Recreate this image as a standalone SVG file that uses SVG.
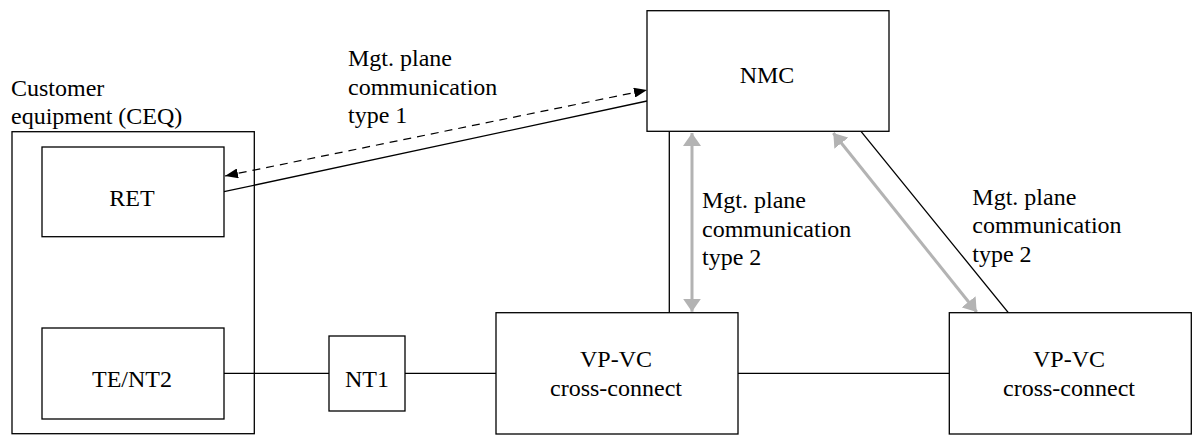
<svg xmlns="http://www.w3.org/2000/svg" width="1197" height="437" viewBox="0 0 1197 437">
<style>
.box{fill:#fff;stroke:#000;stroke-width:1.3}
.frame{fill:none;stroke:#000;stroke-width:1.3}
.ln{fill:none;stroke:#000;stroke-width:1.3}
.dash{fill:none;stroke:#000;stroke-width:1.2;stroke-dasharray:8 6}
.gray{fill:none;stroke:#b3b3b3;stroke-width:3}
.c{text-anchor:middle}
</style>
<defs>
<marker id="blk" viewBox="0 0 13 10" refX="13" refY="5" markerWidth="13" markerHeight="10" markerUnits="userSpaceOnUse" orient="auto-start-reverse">
<path d="M0,0 L13,5 L0,10 Z" fill="#000"/>
</marker>
<marker id="gry" viewBox="0 0 13 18" refX="13" refY="9" markerWidth="13" markerHeight="18" markerUnits="userSpaceOnUse" orient="auto-start-reverse">
<path d="M0,0 L13,9 L0,18 Z" fill="#b3b3b3"/>
</marker>
</defs>
<g id="connectors">
<line class="ln" x1="224" y1="191.7" x2="647" y2="101"/>
<line class="dash" x1="225" y1="176" x2="647" y2="90" marker-start="url(#blk)" marker-end="url(#blk)"/>
<line class="ln" x1="669.3" y1="131.3" x2="669.3" y2="312.7"/>
<line class="gray" x1="692" y1="133" x2="692" y2="311.7" marker-start="url(#gry)" marker-end="url(#gry)"/>
<line class="ln" x1="861" y1="131.3" x2="1008.3" y2="312.7"/>
<line class="gray" x1="833.3" y1="133" x2="976.7" y2="312" marker-start="url(#gry)" marker-end="url(#gry)"/>
<line class="ln" x1="224" y1="373.3" x2="329" y2="373.3"/>
<line class="ln" x1="405" y1="373.3" x2="496" y2="373.3"/>
<line class="ln" x1="738" y1="373.3" x2="949.3" y2="373.3"/>
</g>
<g font-family="'Liberation Serif', 'Times New Roman', serif" font-size="24" fill="#000">
<g id="ceq">
<rect class="frame" x="12" y="131.7" width="242.3" height="302"/>
<text x="11" y="96">Customer</text>
<text x="11" y="123.5">equipment (CEQ)</text>
</g>
<g id="ret">
<rect class="box" x="42" y="147" width="182" height="89.7"/>
<text class="c" x="132" y="206">RET</text>
</g>
<g id="tent2">
<rect class="box" x="42" y="328" width="182" height="91"/>
<text class="c" x="132" y="386.7">TE/NT2</text>
</g>
<g id="nt1">
<rect class="box" x="329" y="336" width="76" height="75"/>
<text class="c" x="367" y="386.7">NT1</text>
</g>
<g id="nmc">
<rect class="box" x="647" y="10.7" width="242" height="120.6"/>
<text class="c" x="767" y="83.3">NMC</text>
</g>
<g id="vpvc1">
<rect class="box" x="496" y="312.7" width="242" height="121.3"/>
<text class="c" x="616" y="366.7">VP-VC</text>
<text class="c" x="616" y="395.7">cross-connect</text>
</g>
<g id="vpvc2">
<rect class="box" x="949.3" y="312.7" width="242" height="121.3"/>
<text class="c" x="1069" y="366.7">VP-VC</text>
<text class="c" x="1069" y="395.7">cross-connect</text>
</g>
<g id="labels">
<text x="348" y="66">Mgt. plane</text>
<text x="348" y="95">communication</text>
<text x="348" y="123">type 1</text>
<text x="702" y="208.3">Mgt. plane</text>
<text x="702" y="236.7">communication</text>
<text x="702" y="264.5">type 2</text>
<text x="972.3" y="205">Mgt. plane</text>
<text x="972.3" y="233.3">communication</text>
<text x="972.3" y="261.7">type 2</text>
</g>
</g>
</svg>
